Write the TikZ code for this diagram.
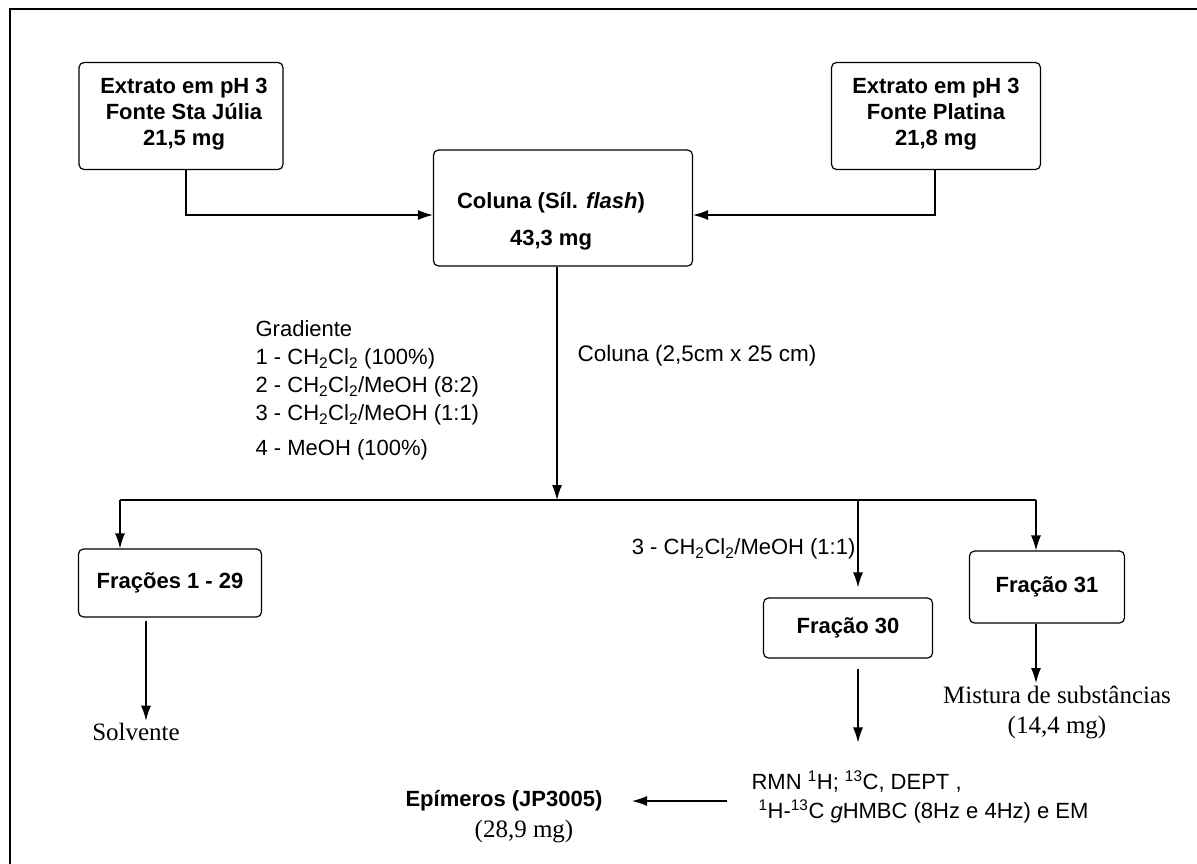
\documentclass[tikz,border=0pt]{standalone}
\usepackage{fontspec}
\setmainfont{Liberation Sans}
\newfontfamily\timesfont{Liberation Serif}
\usetikzlibrary{positioning,arrows.meta}
\tikzstyle{box} = [draw, rounded corners=5pt, line width=1.2pt, align=center, font=\bfseries\fontsize{22}{26}\selectfont, inner sep=0pt]
\tikzstyle{boxtext} = [align=center, font=\bfseries\fontsize{22}{26}\selectfont, inner sep=0pt]
\tikzstyle{txt} = [font=\fontsize{22}{28}\selectfont, inner sep=2pt]
\tikzstyle{serif} = [font=\timesfont\fontsize{25}{30}\selectfont, align=center, inner sep=2pt]

\begin{document}
\begin{tikzpicture}[x=1pt, y=-1pt, >={Latex[length=15pt,width=10pt]}, line width=1.2pt]
    \useasboundingbox (0,0) rectangle (1197,863);
    % Frame
    \draw[line width=2.5pt] (10,870) -- (10,9) -- (1205,9);

    % Boxes
    \node [box, minimum width=204pt, minimum height=107pt] (julia) at (181,116) {};
    \node [boxtext] (juliatxt) at (184,114) {Extrato em pH 3\\Fonte Sta Júlia\\21,5 mg};
    \node [box, minimum width=209pt, minimum height=107pt] (platina) at (936,116) {};
    \node [boxtext] (platinatxt) at (936,114) {Extrato em pH 3\\Fonte Platina\\21,8 mg};
    \node [box, minimum width=259pt, minimum height=116pt] (coluna) at (563,208) {};
    \node [boxtext] (colunatxt) at (551,221) {Coluna (Síl. \textit{flash})\\[11pt]43,3 mg};
    \node [box, minimum width=183pt, minimum height=68pt] (frac1) at (170,583) {Frações 1 - 29};
    \node [box, minimum width=169pt, minimum height=60pt] (frac30) at (848,628) {Fração 30};
    \node [box, minimum width=155pt, minimum height=72pt] (frac31) at (1047,587) {Fração 31};

    % Texts
    \node [txt, align=left, anchor=north west, inner sep=0pt] (grad) at (255,320) {Gradiente\\1 - CH\textsubscript{2}Cl\textsubscript{2} (100\%)\\2 - CH\textsubscript{2}Cl\textsubscript{2}/MeOH (8:2)\\3 - CH\textsubscript{2}Cl\textsubscript{2}/MeOH (1:1)\\[7pt]4 - MeOH (100\%)};
    \node [txt, anchor=west, font=\fontsize{22.5}{28}\selectfont] (dim) at (575,356) {Coluna (2,5cm x 25 cm)};
    \node [serif] (solv) at (136,732) {Solvente};
    \node [serif] (mist) at (1057,712) {Mistura de substâncias\\(14,4 mg)};
    \node [txt, align=left, anchor=west, font=\fontsize{22}{29}\selectfont] (rmn) at (749,797) {RMN \textsuperscript{1}H; \textsuperscript{13}C, DEPT ,\\\hspace*{7pt}\textsuperscript{1}H-\textsuperscript{13}C \textit{g}HMBC (8Hz e 4Hz) e EM};
    \node [txt, font=\bfseries\fontsize{22}{26}\selectfont] (epi) at (504,801) {Epímeros (JP3005)};
    \node [serif] (epimg) at (524,832) {(28,9 mg)};

    % Connections
    \coordinate (jl) at (186,215);
    \coordinate (jp) at (935,215);
    \draw [->] (julia.south -| jl) |- (coluna.west |- jl);
    \draw [->] (platina.south -| jp) |- (coluna.east |- jp);
    \coordinate (split) at (557,500);
    \draw [->] (coluna.south -| split) -- (split);
    \coordinate (b1) at (120,500);
    \coordinate (b30) at (858,500);
    \coordinate (b31) at (1036,500);
    \draw (b1) -- (b31);
    \draw [->] (b1) -- (frac1.north -| b1);
    \draw [->, shorten >=10pt] (b30) -- node [txt, left, pos=0.5] (elu) {3 - CH\textsubscript{2}Cl\textsubscript{2}/MeOH (1:1)} (frac30.north -| b30);
    \draw [->] (b31) -- (frac31.north -| b31);
    \coordinate (a1) at (146,0);
    \draw [->, shorten <=3pt] (frac1.south -| a1) -- (solv.north -| a1);
    \draw [->, shorten <=10pt, shorten >=26pt] (frac30.south -| b30) -- (rmn.north -| b30);
    \draw [->] (frac31.south -| b31) -- (mist.north -| b31);
    \draw [->, shorten <=22pt, shorten >=27pt] (rmn.west |- epi) -- (epi.east);
\end{tikzpicture}
\end{document}
